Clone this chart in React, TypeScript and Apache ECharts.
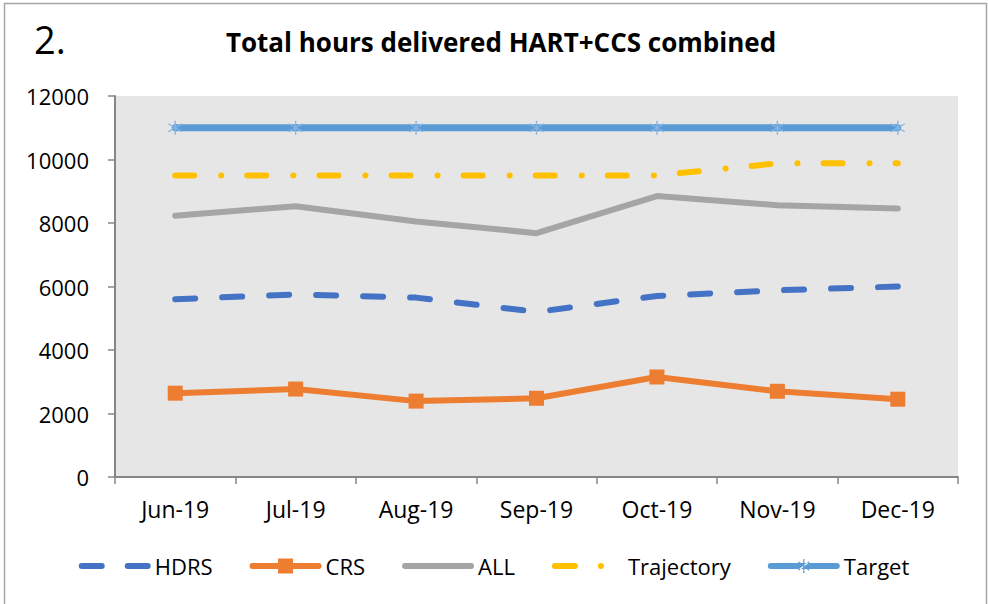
import React, { useEffect, useRef } from "react";
import * as echarts from "echarts";

const categories = ["Jun-19", "Jul-19", "Aug-19", "Sep-19", "Oct-19", "Nov-19", "Dec-19"];
const hdrs = [5600, 5750, 5650, 5200, 5700, 5880, 6000];
const crs = [2640, 2770, 2390, 2480, 3150, 2700, 2450];
const all = [8230, 8530, 8050, 7680, 8850, 8560, 8460];
const trajectory = [9500, 9500, 9500, 9500, 9500, 9880, 9880];
const target = [11000, 11000, 11000, 11000, 11000, 11000, 11000];
const yTicks = { min: 0, max: 12000, interval: 2000 };

const FONT = "'Open Sans', 'Noto Sans', sans-serif";
const asterisk = "path://M7,0L7,14M0.5,3L13.5,11M0.5,11L13.5,3";

// legend icons: 72 x 16 box (corner points keep the bbox fixed)
const BOX = "M0,0L0.01,0L0,0.01Z M72,16L71.99,16L72,15.99Z ";
const roundBar = (x0: number, x1: number) =>
  `M${x0 + 3},5 L${x1 - 3},5 A3,3 0 0 1 ${x1 - 3},11 L${x0 + 3},11 A3,3 0 0 1 ${x0 + 3},5 Z `;
const iconHdrs = "path://" + BOX + roundBar(0, 26) + roundBar(46, 72);
const iconCrs = "path://" + BOX + roundBar(0, 72) + "M28.5,0.5 L43.5,0.5 L43.5,15.5 L28.5,15.5 Z";
const iconAll = "path://" + BOX + roundBar(0, 72);
const iconTraj = "path://" + BOX + roundBar(0, 26) + "M46,8 A3,3 0 1 1 52,8 A3,3 0 1 1 46,8 Z";
const iconTarget =
  "path://" + BOX + roundBar(0, 72) +
  "M35.4,1 L36.6,1 L36.6,15 L35.4,15 Z " +
  "M30.3,4.3 L30.9,3.3 L41.7,11.7 L41.1,12.7 Z " +
  "M30.3,11.7 L30.9,12.7 L41.7,4.3 L41.1,3.3 Z";

export default function App() {
  const ref = useRef<HTMLDivElement>(null);
  useEffect(() => {
    document.body.style.margin = "0";
    const chart = echarts.init(ref.current!, undefined, { renderer: "svg" });
    chart.setOption({
      animation: false,
      backgroundColor: "#ffffff",
      textStyle: { fontFamily: FONT, color: "#000" },
      graphic: [
        {
          type: "rect",
          shape: { x: 4.5, y: 3.5, width: 982, height: 640 },
          style: { fill: "none", stroke: "#a6a6a6", lineWidth: 1.5 },
          silent: true,
          z: -1,
        },
        {
          type: "text",
          left: 34,
          top: 20,
          style: { text: "2.", font: `38px ${FONT}`, fill: "#000" },
        },
      ],
      title: {
        text: "Total hours delivered HART+CCS combined",
        left: 496,
        textAlign: "center",
        top: 24,
        textStyle: { fontFamily: FONT, fontSize: 26, fontWeight: "bold", color: "#000" },
      },
      grid: {
        left: 115,
        top: 96,
        width: 843,
        height: 381,
        show: true,
        backgroundColor: "#e7e6e6",
        borderWidth: 0,
      },
      legend: {
        bottom: 22,
        left: "center",
        itemWidth: 72,
        itemHeight: 16,
        itemGap: 37,
        textStyle: { fontFamily: FONT, fontSize: 22, color: "#000", padding: [0, 0, 0, -1] },
        data: [
          { name: "HDRS", icon: iconHdrs, itemStyle: { color: "#4472c4", borderWidth: 0 } },
          { name: "CRS", icon: iconCrs, itemStyle: { color: "#ed7d31", borderWidth: 0 } },
          { name: "ALL", icon: iconAll, itemStyle: { color: "#a5a5a5", borderWidth: 0 } },
          { name: "Trajectory", icon: iconTraj, itemStyle: { color: "#ffc000", borderWidth: 0 } },
          { name: "Target", icon: iconTarget, itemStyle: { color: "#5b9bd5", borderWidth: 0 } },
        ],
      },
      xAxis: {
        type: "category",
        data: categories,
        boundaryGap: true,
        axisLine: { lineStyle: { color: "#868686", width: 2 } },
        axisTick: { show: true, length: 7, lineStyle: { color: "#868686", width: 1.5 } },
        axisLabel: { fontFamily: FONT, fontSize: 23, color: "#000", margin: 20 },
      },
      yAxis: {
        type: "value",
        min: yTicks.min,
        max: yTicks.max,
        interval: yTicks.interval,
        axisLine: { show: true, lineStyle: { color: "#868686", width: 2 } },
        axisTick: { show: true, length: 7, lineStyle: { color: "#868686", width: 1.5 } },
        splitLine: { show: false },
        axisLabel: {
          fontFamily: FONT,
          fontSize: 22,
          color: "#000",
          margin: 26,
          formatter: (v: number) => String(v),
        },
      },
      series: [
        {
          name: "HDRS",
          type: "line",
          data: hdrs,
          symbol: "none",
          color: "#4472c4",
          lineStyle: { width: 6, color: "#4472c4", type: [20, 27], cap: "round" },
          z: 3,
        },
        {
          name: "CRS",
          type: "line",
          data: crs,
          symbol: "rect",
          symbolSize: 15,
          color: "#ed7d31",
          itemStyle: { color: "#ed7d31" },
          lineStyle: { width: 6, color: "#ed7d31" },
          z: 3,
        },
        {
          name: "ALL",
          type: "line",
          data: all,
          symbol: "none",
          color: "#a5a5a5",
          lineStyle: { width: 6, color: "#a5a5a5", cap: "round" },
          z: 2,
        },
        {
          name: "Trajectory",
          type: "line",
          data: trajectory,
          symbol: "none",
          color: "#ffc000",
          lineStyle: { width: 6, color: "#ffc000", type: [19, 27, 0.1, 26], cap: "round" },
          z: 2,
        },
        {
          name: "Target",
          type: "line",
          data: target,
          symbol: asterisk,
          symbolSize: 14,
          color: "#5b9bd5",
          itemStyle: { color: "none", borderColor: "#86b6e3", borderWidth: 1.4 },
          lineStyle: { width: 7, color: "#5b9bd5", cap: "round" },
          z: 2,
        },
      ],
    });
    return () => chart.dispose();
  }, []);
  return <div ref={ref} style={{ width: 988, height: 604 }} />;
}
